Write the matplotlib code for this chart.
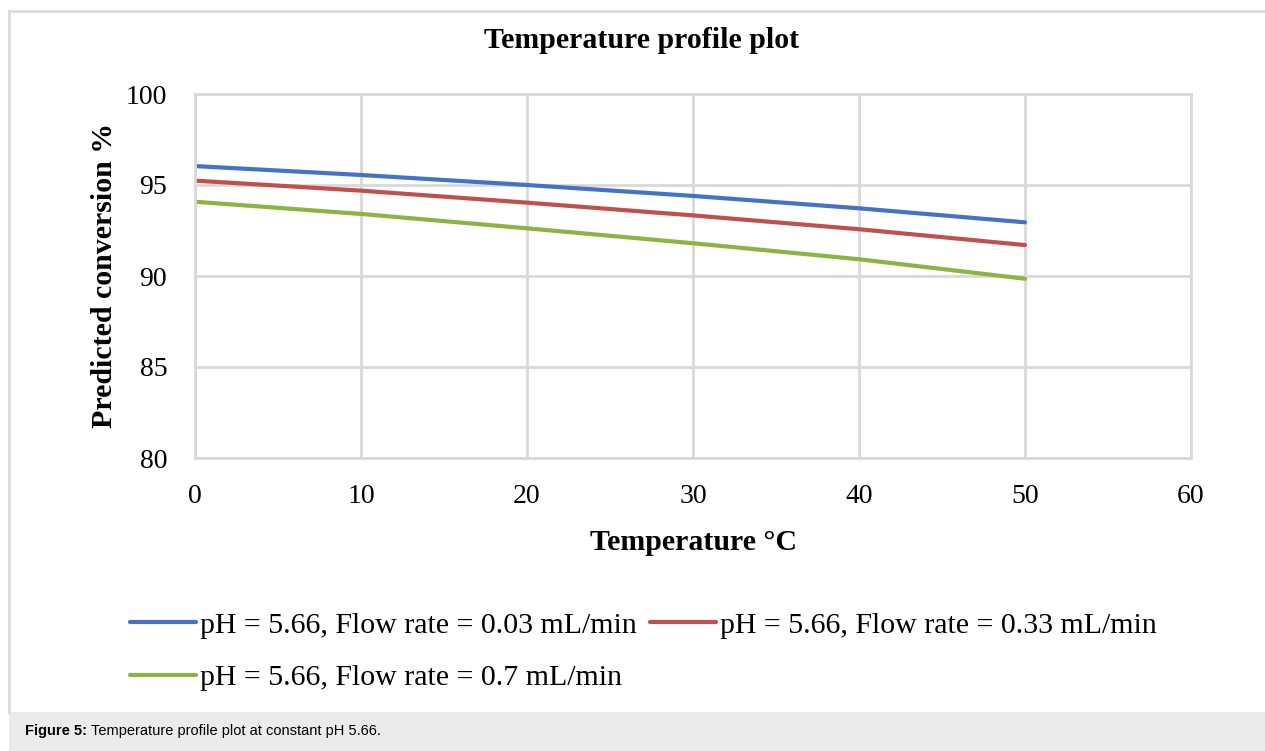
import matplotlib.pyplot as plt
from matplotlib.lines import Line2D
from matplotlib.patches import Rectangle

# values
temperature = [0, 10, 20, 30, 40, 50]
conv_003 = [96.04, 95.55, 95.00, 94.40, 93.72, 92.95]
conv_033 = [95.24, 94.69, 94.03, 93.33, 92.57, 91.70]
conv_07 = [94.08, 93.41, 92.62, 91.80, 90.92, 89.85]
series_labels = [
    "pH = 5.66, Flow rate = 0.03 mL/min",
    "pH = 5.66, Flow rate = 0.33 mL/min",
    "pH = 5.66, Flow rate = 0.7 mL/min",
]
colors = ["#4472C4", "#C0504D", "#8DB443"]
x_ticks = [0, 10, 20, 30, 40, 50, 60]
y_ticks = [80, 85, 90, 95, 100]

W, H = 1265, 751
SERIF = "Liberation Serif"
GRID = "#d9d9d9"

fig = plt.figure(figsize=(W / 100, H / 100), dpi=100)

# outer frame (top + left) and caption strip
fig.add_artist(Line2D([9 / W, 1], [1 - 11 / H, 1 - 11 / H], color="#dcdcdc", lw=2))
fig.add_artist(Line2D([9 / W, 9 / W], [39 / H, 1 - 11 / H], color="#dcdcdc", lw=2))
fig.add_artist(Rectangle((9 / W, 0), 1, 39 / H, transform=fig.transFigure,
                         facecolor="#ebebeb", edgecolor="none"))
fig.text(25 / W, 20 / H, "Figure 5:", fontsize=10.5, fontweight="bold",
         family="Liberation Sans", va="center", ha="left")
fig.text(91 / W, 20 / H, "Temperature profile plot at constant pH 5.66.",
         fontsize=10.5, family="Liberation Sans", va="center", ha="left")

ax = fig.add_axes([195 / W, (H - 458) / H, 996 / W, 364 / H])
lines = []
for vals, c, lab in zip([conv_003, conv_033, conv_07], colors, series_labels):
    ln, = ax.plot(temperature, vals, color=c, lw=3, label=lab, solid_capstyle="round")
    lines.append(ln)

ax.set_xlim(0, 60)
ax.set_ylim(80, 100)
ax.set_xticks(x_ticks)
ax.set_yticks(y_ticks)
ax.grid(True, color=GRID, lw=2)
ax.set_axisbelow(True)
for s in ax.spines.values():
    s.set_color(GRID)
    s.set_linewidth(2)
ax.tick_params(length=0, labelsize=20)
ax.tick_params(axis="x", pad=19)
ax.tick_params(axis="y", pad=20)
for t in ax.get_xticklabels() + ax.get_yticklabels():
    t.set_family(SERIF)

ax.set_xlabel("Temperature °C", family=SERIF, fontsize=21.5, fontweight="bold", labelpad=14)
ax.set_ylabel("Predicted conversion %", family=SERIF, fontsize=21.5, fontweight="bold", labelpad=6)
fig.text(642 / W, 1 - 40 / H, "Temperature profile plot", family=SERIF, fontsize=21.5,
         fontweight="bold", ha="center", va="center")

# column-major fill: blue, green in column 1; red in column 2
order = [0, 2, 1]
fig.legend([lines[i] for i in order], [series_labels[i] for i in order],
           loc="upper left", bbox_to_anchor=(103 / W, 1 - 585 / H), ncol=2,
           frameon=False, prop={"family": SERIF, "size": 21.5},
           handlelength=2.2, handletextpad=0.15, columnspacing=0.45, labelspacing=0.85)

plt.savefig("out.png", dpi=100)
plt.close()
